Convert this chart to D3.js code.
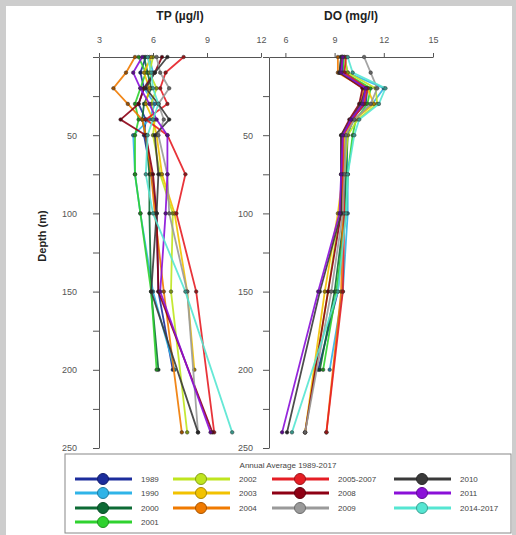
<!DOCTYPE html>
<html>
<head>
<meta charset="utf-8">
<script src="https://cdn.jsdelivr.net/npm/d3@7"></script>
<style>
  body { margin: 0; background: #cdcdcd; }
  svg { display: block; font-family: "Liberation Sans", Arial, sans-serif; }
</style>
</head>
<body>
<script>
var canvasWidth = 516;
var canvasHeight = 535;

// series names and colours
var years = ['1989', '1990', '2000', '2001', '2002', '2003', '2004',
    '2005-2007', '2008', '2009', '2010', '2011', '2014-2017'];
var colors = ['#1c2d9c', '#2fb4e8', '#0d6b35', '#2fd22f', '#bfe51f', '#f2c200',
    '#f07a00', '#e51e25', '#8e0014', '#9a9a9a', '#3a3a3a', '#8a10d8', '#55e6d2'];

// sampling depths (m)
var depthsShort = [0, 10, 20, 30, 40, 50, 75, 100, 150, 200];
var depthsLong = [0, 10, 20, 30, 40, 50, 75, 100, 150, 240];
// which series were sampled down to 240 m
var tpDeep = ['2002', '2004', '2005-2007', '2008', '2009', '2010', '2011', '2014-2017'];
var doDeep = ['2002', '2003', '2004', '2005-2007', '2008', '2009', '2010', '2011', '2014-2017'];

// TP (ug/l)
var tp1989 = [5.6, 5.3, 5.5, 5.2, 5.6, 5.5, 5.9, 6.2, 6.3, 7.1];
var tp1990 = [5.8, 6.0, 5.5, 6.1, 5.8, 4.9, 5.0, 5.3, 6.0, 7.2];
var tp2000 = [5.5, 5.7, 5.9, 5.5, 5.4, 5.6, 5.8, 5.8, 5.9, 6.3];
var tp2001 = [5.2, 5.6, 5.3, 5.0, 5.2, 5.0, 5.0, 5.3, 5.9, 6.2];
var tp2002 = [6.0, 5.8, 6.2, 5.9, 6.1, 6.0, 6.4, 7.1, 7.0, 7.9];
var tp2003 = [5.9, 5.5, 5.8, 5.6, 6.0, 6.2, 6.5, 7.2, 7.9, 8.3];
var tp2004 = [5.0, 4.5, 3.8, 4.6, 5.4, 5.6, 5.9, 6.1, 6.6, 7.6];
var tp2005 = [7.7, 6.7, 6.4, 6.8, 5.6, 6.8, 7.8, 7.3, 8.4, 9.4];
var tp2008 = [6.5, 6.1, 5.5, 5.2, 4.2, 5.6, 6.0, 6.2, 6.3, 9.3];
var tp2009 = [6.2, 6.4, 6.9, 6.3, 6.6, 6.3, 6.8, 6.9, 7.9, 8.5];
var tp2010 = [6.8, 6.1, 5.6, 6.3, 6.9, 6.1, 6.3, 6.2, 5.9, 8.5];
var tp2011 = [5.4, 4.9, 5.3, 5.8, 6.2, 6.8, 6.8, 6.7, 6.4, 9.2];
var tp2014 = [5.7, 5.9, 6.0, 6.3, 6.0, 5.7, 5.6, 6.0, 7.8, 10.4];

// DO (mg/l)
var do1989 = [9.5, 9.5, 11.0, 10.9, 10.0, 9.6, 9.6, 9.6, 9.2, 8.0];
var do1990 = [9.6, 9.8, 12.0, 11.3, 10.2, 9.7, 9.8, 9.8, 9.5, 8.7];
var do2000 = [9.4, 9.3, 10.9, 10.7, 10.1, 9.8, 9.7, 9.6, 9.0, 8.1];
var do2001 = [9.5, 9.6, 11.2, 11.0, 10.3, 10.1, 9.8, 9.7, 9.1, 8.3];
var do2002 = [9.6, 9.8, 11.5, 11.6, 10.4, 9.8, 9.6, 9.3, 8.6, 7.2];
var do2003 = [9.4, 9.4, 11.0, 11.4, 10.2, 9.6, 9.5, 9.2, 8.4, 7.2];
var do2004 = [9.2, 9.2, 10.8, 10.6, 10.0, 9.5, 9.5, 9.5, 9.4, 8.5];
var do2005 = [9.7, 9.6, 11.0, 10.8, 10.1, 9.5, 9.5, 9.6, 9.5, 8.5];
var do2008 = [9.5, 9.3, 10.7, 10.5, 9.9, 9.4, 9.4, 9.4, 8.6, 7.2];
var do2009 = [10.8, 11.2, 11.6, 11.2, 10.2, 9.7, 9.6, 9.5, 8.8, 7.2];
var do2010 = [9.4, 9.3, 10.9, 10.6, 10.0, 9.4, 9.4, 9.4, 8.1, 6.1];
var do2011 = [9.5, 9.4, 10.9, 10.7, 10.0, 9.5, 9.4, 9.3, 8.0, 5.8];
var do2014 = [9.8, 10.1, 12.1, 11.7, 10.5, 10.2, 9.8, 9.7, 9.2, 6.4];

var tpValues = [tp1989, tp1990, tp2000, tp2001, tp2002, tp2003, tp2004,
    tp2005, tp2008, tp2009, tp2010, tp2011, tp2014];
var doValues = [do1989, do1990, do2000, do2001, do2002, do2003, do2004,
    do2005, do2008, do2009, do2010, do2011, do2014];

var depthTicks = [0, 25, 50, 75, 100, 125, 150, 175, 200, 225, 250];
var tpTicks = [3, 6, 9, 12];
var doTicks = [6, 9, 12, 15];

var svg = d3
    .select('body')
    .append('svg')
    .attr('width', canvasWidth)
    .attr('height', canvasHeight);

svg.append('rect')
    .attr('x', 6).attr('y', 6)
    .attr('width', 506).attr('height', 529)
    .attr('fill', '#fff');

var yScale = d3.scaleLinear().domain([0, 250]).range([57, 448]);
var tpScale = d3.scaleLinear().domain([3, 12]).range([99, 261]);
var doScale = d3.scaleLinear().domain([5, 15]).range([269, 433]);

function buildRows(values, deepList) {
    return values.map(function (vals, i) {
        var depths = deepList.indexOf(years[i]) >= 0 ? depthsLong : depthsShort;
        return {
            name: years[i],
            color: colors[i],
            points: vals.map(function (v, j) { return { v: v, d: depths[j] }; })
        };
    });
}

function drawPanel(xScale, rows, ticks, title, left) {
    var g = svg.append('g');

    // top axis
    g.append('g')
        .attr('transform', 'translate(0,' + yScale(0) + ')')
        .call(d3.axisTop(xScale).tickValues(ticks).tickSize(4).tickPadding(10).tickSizeOuter(0))
        .call(function (a) {
            a.selectAll('text').attr('font-size', '9px').attr('fill', '#555');
            a.selectAll('line, path').attr('stroke', '#555');
        });

    // depth axis
    g.append('g')
        .attr('transform', 'translate(' + left + ',0)')
        .call(d3.axisLeft(yScale).tickValues(depthTicks).tickSize(6).tickPadding(left < 200 ? 16 : 10)
            .tickSizeOuter(0)
            .tickFormat(function (d) { return d > 0 && d % 50 === 0 ? d : ''; }))
        .call(function (a) {
            a.selectAll('text').attr('font-size', '9px').attr('fill', '#555');
            a.selectAll('line, path').attr('stroke', '#555');
        });

    var line = d3.line()
        .x(function (p) { return xScale(p.v); })
        .y(function (p) { return yScale(p.d); });

    rows.forEach(function (r) {
        g.append('path')
            .datum(r.points)
            .attr('fill', 'none')
            .attr('stroke', r.color)
            .attr('stroke-width', 1.8)
            .attr('stroke-opacity', 0.9)
            .attr('d', line);
        g.selectAll(null)
            .data(r.points)
            .enter()
            .append('circle')
            .attr('cx', function (p) { return xScale(p.v); })
            .attr('cy', function (p) { return yScale(p.d); })
            .attr('r', 1.8)
            .attr('fill', d3.color(r.color).darker(1.2))
            .attr('stroke', '#333')
            .attr('stroke-width', 0.5);
    });

    svg.append('text')
        .attr('x', (xScale.range()[0] + xScale.range()[1]) / 2)
        .attr('y', 20)
        .attr('text-anchor', 'middle')
        .attr('font-size', '12px')
        .attr('font-weight', 'bold')
        .attr('fill', '#222')
        .text(title);
}

drawPanel(tpScale, buildRows(tpValues, tpDeep), tpTicks, 'TP (\u00b5g/l)', 99);
drawPanel(doScale, buildRows(doValues, doDeep), doTicks, 'DO (mg/l)', 269);

svg.append('text')
    .attr('transform', 'translate(46,236) rotate(-90)')
    .attr('text-anchor', 'middle')
    .attr('font-size', '11px')
    .attr('font-weight', 'bold')
    .attr('fill', '#222')
    .text('Depth (m)');

// legend
var legend = svg.append('g');
legend.append('rect')
    .attr('x', 65).attr('y', 454)
    .attr('width', 446).attr('height', 79)
    .attr('fill', '#fff')
    .attr('stroke', '#888');
legend.append('text')
    .attr('x', 288).attr('y', 468)
    .attr('text-anchor', 'middle')
    .attr('font-size', '8px')
    .attr('fill', '#444')
    .text('Annual Average 1989-2017');

var colX = [75, 173, 272, 394];
var rowY = [479, 493, 508, 522];
var slots = [[0, 0], [0, 1], [0, 2], [0, 3], [1, 0], [1, 1], [1, 2],
    [2, 0], [2, 1], [2, 2], [3, 0], [3, 1], [3, 2]];

years.forEach(function (name, i) {
    var x0 = colX[slots[i][0]];
    var y0 = rowY[slots[i][1]];
    legend.append('line')
        .attr('x1', x0).attr('x2', x0 + 57)
        .attr('y1', y0).attr('y2', y0)
        .attr('stroke', colors[i])
        .attr('stroke-width', 3);
    legend.append('circle')
        .attr('cx', x0 + 28).attr('cy', y0)
        .attr('r', 5.5)
        .attr('fill', colors[i])
        .attr('stroke', d3.color(colors[i]).darker(1))
        .attr('stroke-width', 1);
    legend.append('text')
        .attr('x', x0 + 66).attr('y', y0 + 3)
        .attr('font-size', '8px')
        .attr('fill', '#444')
        .text(name);
});
</script>
</body>
</html>
